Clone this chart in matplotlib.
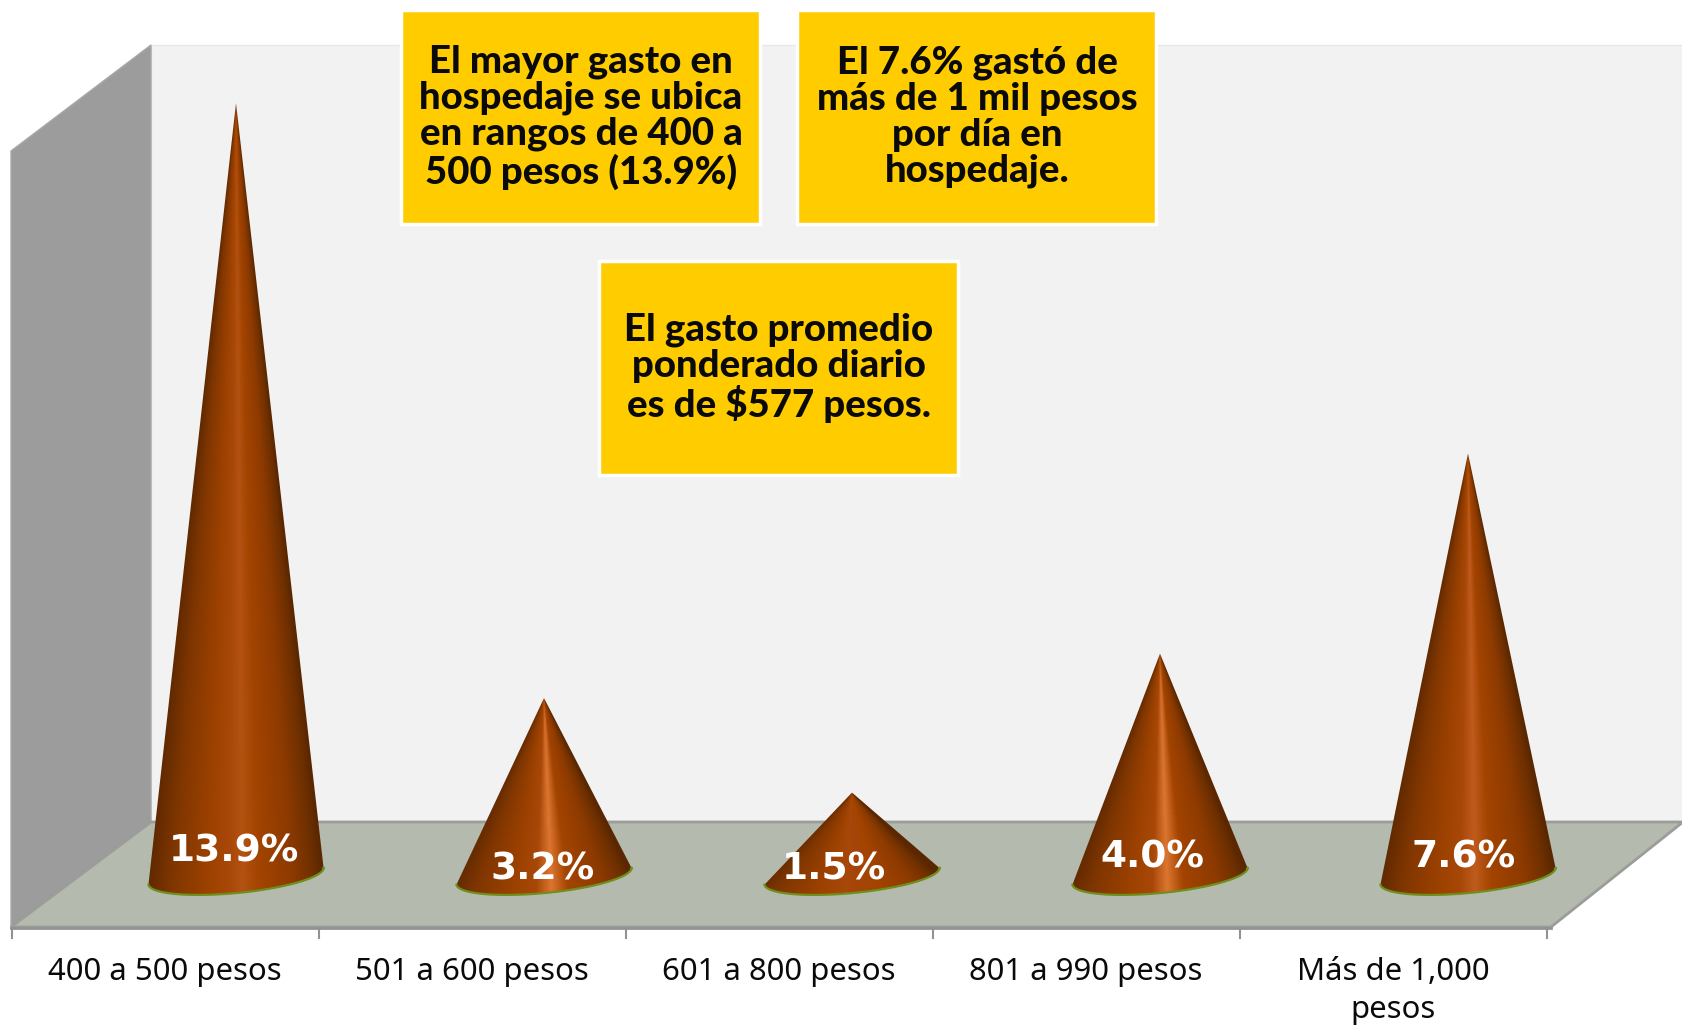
import numpy as np
import matplotlib
matplotlib.use('Agg')
import matplotlib.pyplot as plt
from matplotlib.colors import LinearSegmentedColormap
from matplotlib.patches import Polygon, Rectangle

categories = ['400 a 500 pesos', '501 a 600 pesos', '601 a 800 pesos',
              '801 a 990 pesos', 'Más de 1,000\npesos']
values = [13.9, 3.2, 1.5, 4.0, 7.6]
value_labels = ['13.9%', '3.2%', '1.5%', '4.0%', '7.6%']
notes = ['El mayor gasto en\nhospedaje se ubica\nen rangos de 400 a\n500 pesos (13.9%)',
         'El 7.6% gastó de\nmás de 1 mil pesos\npor día en\nhospedaje.',
         'El gasto promedio\nponderado diario\nes de $577 pesos.']

# styling per cone
highlights = ['#b35211', '#dc7631', '#a54408', '#dc7631', '#c05b1d']
label_dx = [-2, -1, -18, -8, -4]
label_dy = [-24, -6, -6, -19, -19]

W, H = 1683, 1025
fig = plt.figure(figsize=(W / 100, H / 100), dpi=100)
ax = fig.add_axes([0, 0, 1, 1])
ax.axis('off')

# fake 3d box, everything here in pixels
ax.add_patch(Polygon([(151, 45), (W, 45), (W, 822), (151, 822)], fc='#f2f2f2', ec='#e8e8e8', lw=1, zorder=1))
ax.add_patch(Polygon([(11, 151), (151, 45), (151, 822), (11, 927)], fc='#9c9c9c', ec='#a8a8a8', lw=1, zorder=2))
ax.add_patch(Polygon([(11, 927), (151, 822), (W, 822), (1551, 927)], fc='#b4bbae', ec='#9a9d98', lw=2, zorder=2))

tick_x = 12 + 307 * np.arange(6)
ax.plot([11, 1551], [928, 928], color='#929292', lw=2, zorder=3)
for t in tick_x:
    ax.plot([t, t], [928, 938], color='#929292', lw=1.5, zorder=3)
for i, c in enumerate(categories):
    ax.text(tick_x[i] + 153, 957, c, ha='center', va='top', fontsize=22.4, family='Noto Sans',
            color='#0a0a0a', linespacing=1.33, zorder=6)

# cones: height comes from the value, 55.6 px per point over the base centre
base_y = 876
a, b, tilt = 88, 17, np.radians(-5.5)
for i, v in enumerate(values):
    cx = 236 + 308 * i
    top = base_y - v * 55.6
    t = np.linspace(0, 2 * np.pi, 200)
    ex = cx + a * np.cos(t) * np.cos(tilt) - b * np.sin(t) * np.sin(tilt)
    ey = base_y + a * np.cos(t) * np.sin(tilt) + b * np.sin(t) * np.cos(tilt)
    lower = ey > base_y + (ex - cx) * np.tan(tilt) - 0.01
    arc = np.argsort(ex[lower])[::-1]
    arc_x, arc_y = ex[lower][arc], ey[lower][arc]
    poly = Polygon(np.vstack([[cx, top], np.c_[arc_x, arc_y]]), closed=True, fc='none', ec='none', zorder=4)
    ax.add_patch(poly)

    cmap = LinearSegmentedColormap.from_list('cone', [
        (0, '#602900'), (0.14, '#803600'), (0.34, '#9c4100'), (0.46, '#a84808'), (0.54, highlights[i]),
        (0.63, '#a34400'), (0.82, '#8d3a00'), (0.94, '#6f3000'), (1, '#5a2700')])
    xs = np.arange(cx - a - 3, cx + a + 3)
    ys = np.arange(top - 1, base_y + 22)
    X, Y = np.meshgrid(xs, ys)
    half = np.maximum((Y - top) / (base_y - top), 0.001) * a
    U = np.clip((X - cx) / half * 0.5 + 0.5, 0, 1)
    im = ax.imshow(U, cmap=cmap, vmin=0, vmax=1, aspect='auto', interpolation='bilinear',
                   extent=(xs[0], xs[-1], ys[-1], ys[0]), zorder=4)
    im.set_clip_path(poly)
    ax.plot(arc_x, arc_y, color='#6f8f1a', lw=1.6, zorder=5)
    ax.text(cx + label_dx[i], base_y + label_dy[i], value_labels[i], color='white', ha='center', va='center',
            fontsize=27, fontweight='bold', family='DejaVu Sans', zorder=6)

ax.set_xlim(0, W)
ax.set_ylim(H, 0)

boxes = [(401, 10), (797, 10), (599, 261)]
for n, (bx, by) in zip(notes, boxes):
    ax.add_patch(Rectangle((bx, by), 359, 214, fc='#ffcc00', ec='white', lw=2.5, zorder=7))
    ax.text(bx + 180, by + 107, n, ha='center', va='center', fontsize=27.6, fontweight='black',
            family='Lato', color='#0a0a0a', linespacing=1.07, zorder=8)

fig.savefig('out.png', dpi=100)
